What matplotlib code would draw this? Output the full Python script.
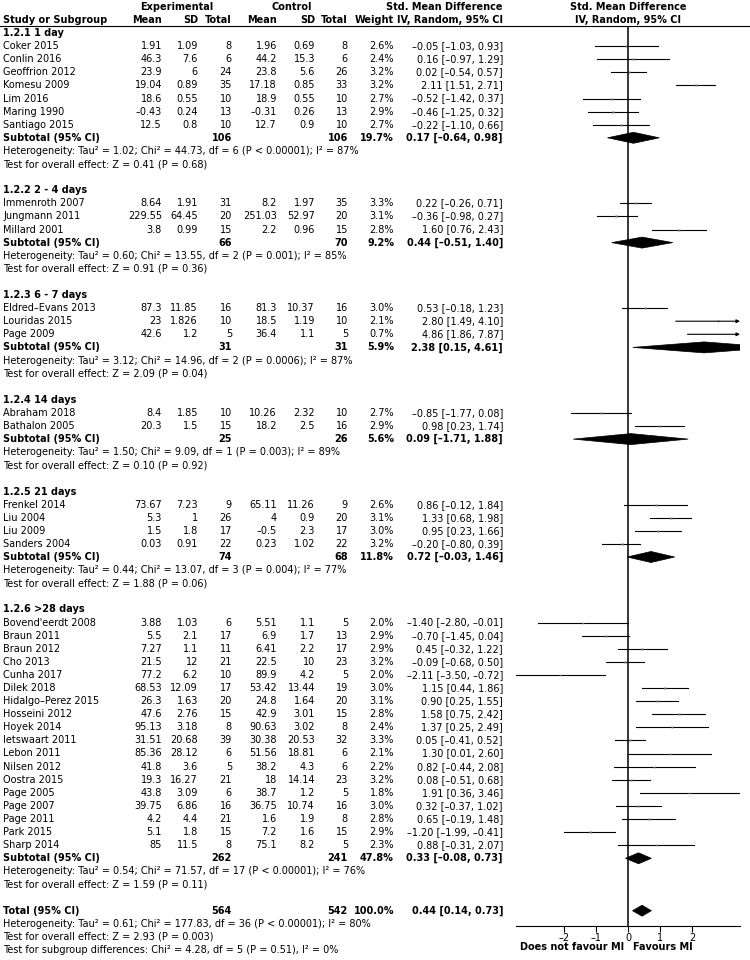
import matplotlib
matplotlib.use("Agg")
import matplotlib.pyplot as plt
from matplotlib.patches import Polygon
from matplotlib.transforms import blended_transform_factory

# ---------------- data ----------------
group_labels = ["1.2.1 1 day", "1.2.2 2 - 4 days", "1.2.3 6 - 7 days",
                "1.2.4 14 days", "1.2.5 21 days", "1.2.6 >28 days"]

study_names = [
    "Coker 2015", "Conlin 2016", "Geoffrion 2012", "Komesu 2009", "Lim 2016", "Maring 1990", "Santiago 2015",
    "Immenroth 2007", "Jungmann 2011", "Millard 2001",
    "Eldred-Evans 2013", "Louridas 2015", "Page 2009",
    "Abraham 2018", "Bathalon 2005",
    "Frenkel 2014", "Liu 2004", "Liu 2009", "Sanders 2004",
    "Bovend'eerdt 2008", "Braun 2011", "Braun 2012", "Cho 2013", "Cunha 2017", "Dilek 2018",
    "Hidalgo-Perez 2015", "Hosseini 2012", "Hoyek 2014", "Ietswaart 2011", "Lebon 2011", "Nilsen 2012",
    "Oostra 2015", "Page 2005", "Page 2007", "Page 2011", "Park 2015", "Sharp 2014",
]
study_group = [0]*7 + [1]*3 + [2]*3 + [3]*2 + [4]*4 + [5]*18

exp_mean = [1.91, 46.3, 23.9, 19.04, 18.6, -0.43, 12.5,
            8.64, 229.55, 3.8,
            87.3, 23, 42.6,
            8.4, 20.3,
            73.67, 5.3, 1.5, 0.03,
            3.88, 5.5, 7.27, 21.5, 77.2, 68.53, 26.3, 47.6, 95.13, 31.51, 85.36, 41.8,
            19.3, 43.8, 39.75, 4.2, 5.1, 85]
exp_sd = [1.09, 7.6, 6, 0.89, 0.55, 0.24, 0.8,
          1.91, 64.45, 0.99,
          11.85, 1.826, 1.2,
          1.85, 1.5,
          7.23, 1, 1.8, 0.91,
          1.03, 2.1, 1.1, 12, 6.2, 12.09, 1.63, 2.76, 3.18, 20.68, 28.12, 3.6,
          16.27, 3.09, 6.86, 4.4, 1.8, 11.5]
exp_n = [8, 6, 24, 35, 10, 13, 10,
         31, 20, 15,
         16, 10, 5,
         10, 15,
         9, 26, 17, 22,
         6, 17, 11, 21, 10, 17, 20, 15, 8, 39, 6, 5,
         21, 6, 16, 21, 15, 8]
ctl_mean = [1.96, 44.2, 23.8, 17.18, 18.9, -0.31, 12.7,
            8.2, 251.03, 2.2,
            81.3, 18.5, 36.4,
            10.26, 18.2,
            65.11, 4, -0.5, 0.23,
            5.51, 6.9, 6.41, 22.5, 89.9, 53.42, 24.8, 42.9, 90.63, 30.38, 51.56, 38.2,
            18, 38.7, 36.75, 1.6, 7.2, 75.1]
ctl_sd = [0.69, 15.3, 5.6, 0.85, 0.55, 0.26, 0.9,
          1.97, 52.97, 0.96,
          10.37, 1.19, 1.1,
          2.32, 2.5,
          11.26, 0.9, 2.3, 1.02,
          1.1, 1.7, 2.2, 10, 4.2, 13.44, 1.64, 3.01, 3.02, 20.53, 18.81, 4.3,
          14.14, 1.2, 10.74, 1.9, 1.6, 8.2]
ctl_n = [8, 6, 26, 33, 10, 13, 10,
         35, 20, 15,
         16, 10, 5,
         10, 16,
         9, 20, 17, 22,
         5, 13, 17, 23, 5, 19, 20, 15, 8, 32, 6, 6,
         23, 5, 16, 8, 15, 5]
weight = [2.6, 2.4, 3.2, 3.2, 2.7, 2.9, 2.7,
          3.3, 3.1, 2.8,
          3.0, 2.1, 0.7,
          2.7, 2.9,
          2.6, 3.1, 3.0, 3.2,
          2.0, 2.9, 2.9, 3.2, 2.0, 3.0, 3.1, 2.8, 2.4, 3.3, 2.1, 2.2,
          3.2, 1.8, 3.0, 2.8, 2.9, 2.3]
smd = [-0.05, 0.16, 0.02, 2.11, -0.52, -0.46, -0.22,
       0.22, -0.36, 1.60,
       0.53, 2.80, 4.86,
       -0.85, 0.98,
       0.86, 1.33, 0.95, -0.20,
       -1.40, -0.70, 0.45, -0.09, -2.11, 1.15, 0.90, 1.58, 1.37, 0.05, 1.30, 0.82,
       0.08, 1.91, 0.32, 0.65, -1.20, 0.88]
ci_lo = [-1.03, -0.97, -0.54, 1.51, -1.42, -1.25, -1.10,
         -0.26, -0.98, 0.76,
         -0.18, 1.49, 1.86,
         -1.77, 0.23,
         -0.12, 0.68, 0.23, -0.80,
         -2.80, -1.45, -0.32, -0.68, -3.50, 0.44, 0.25, 0.75, 0.25, -0.41, 0.01, -0.44,
         -0.51, 0.36, -0.37, -0.19, -1.99, -0.31]
ci_hi = [0.93, 1.29, 0.57, 2.71, 0.37, 0.32, 0.66,
         0.71, 0.27, 2.43,
         1.23, 4.10, 7.87,
         0.08, 1.74,
         1.84, 1.98, 1.66, 0.39,
         -0.01, 0.04, 1.22, 0.50, -0.72, 1.86, 1.55, 2.42, 2.49, 0.52, 2.60, 2.08,
         0.68, 3.46, 1.02, 1.48, -0.41, 2.07]

sub_exp_n = [106, 66, 31, 25, 74, 262]
sub_ctl_n = [106, 70, 31, 26, 68, 241]
sub_weight = [19.7, 9.2, 5.9, 5.6, 11.8, 47.8]
sub_smd = [0.17, 0.44, 2.38, 0.09, 0.72, 0.33]
sub_lo = [-0.64, -0.51, 0.15, -1.71, -0.03, -0.08]
sub_hi = [0.98, 1.40, 4.61, 1.88, 1.46, 0.73]
het_tau2 = [1.02, 0.60, 3.12, 1.50, 0.44, 0.54]
het_chi2 = [44.73, 13.55, 14.96, 9.09, 13.07, 71.57]
het_df = [6, 2, 2, 1, 3, 17]
het_p = ["< 0.00001", "= 0.001", "= 0.0006", "= 0.003", "= 0.004", "< 0.00001"]
het_i2 = [87, 85, 87, 89, 77, 76]
z_val = [0.41, 0.91, 2.09, 0.10, 1.88, 1.59]
z_p = ["= 0.68", "= 0.36", "= 0.04", "= 0.92", "= 0.06", "= 0.11"]

total_exp_n, total_ctl_n, total_weight = 564, 542, 100.0
total_smd, total_lo, total_hi = 0.44, 0.14, 0.73
total_tau2, total_chi2, total_df, total_p, total_i2 = 0.61, 177.83, 36, "< 0.00001", 80
total_z, total_zp = 2.93, "= 0.003"
subgroup_chi2, subgroup_df, subgroup_p, subgroup_i2 = 4.28, 5, "= 0.51", 0

x_ticks = [-2, -1, 0, 1, 2]
left_label, right_label = "Does not favour MI", "Favours MI"

# ---------------- layout ----------------
W, H = 750, 960
ROW0, PITCH = 33.0, 13.1
FS = 7.0
DASH = "\u2013"
plt.rcParams["font.family"] = ["DejaVu Sans"]
plt.rcParams["axes.unicode_minus"] = False


def pix2row(p):
    return (p - ROW0) / PITCH


fig = plt.figure(figsize=(W / 100, H / 100), dpi=100)
ax_t = fig.add_axes([0, 0, 1, 1])
ax_t.set_xlim(0, W)
ax_t.set_ylim(pix2row(H), pix2row(0))
ax_t.axis("off")

PL, PR, PT, PB = 516, 740, 26, 926
XMIN, XMAX = -3.5, 3.5
ax_f = fig.add_axes([PL / W, 1 - PB / H, (PR - PL) / W, (PB - PT) / H])
ax_f.set_xlim(XMIN, XMAX)
ax_f.set_ylim(pix2row(PB), pix2row(PT))
ax_f.patch.set_alpha(0)
for s in ["left", "right", "top"]:
    ax_f.spines[s].set_visible(False)
ax_f.spines["bottom"].set_linewidth(0.8)
ax_f.set_yticks([])
ax_f.set_xticks(x_ticks)
ax_f.set_xticklabels([f"{t}".replace("-", DASH) for t in x_ticks])
ax_f.tick_params(axis="x", direction="out", length=4, width=0.8, labelsize=FS, pad=1)

bt = blended_transform_factory(ax_f.transData, ax_t.transData)

C_NAME, C_EM, C_ESD, C_EN, C_CM, C_CSD, C_CN, C_W, C_CI = 3, 162, 198, 232, 277, 315, 348, 394, 503


def fmt(v):
    return f"{v:g}".replace("-", DASH)


def ci_str(e, lo, hi):
    return f"{e:.2f} [{lo:.2f}, {hi:.2f}]".replace("-", DASH)


def txt(x, r, s, ha="right", bold=False, **kw):
    ax_t.text(x, r, s, ha=ha, va="center", fontsize=FS,
              fontweight="bold" if bold else "normal", **kw)


# headers
txt(177, -2, "Experimental", ha="center", bold=True)
txt(292, -2, "Control", ha="center", bold=True)
txt(C_CI, -2, "Std. Mean Difference", bold=True)
ax_f.text(0, -2, "Std. Mean Difference", transform=bt, ha="center", va="center",
          fontsize=FS, fontweight="bold")
txt(C_NAME, -1, "Study or Subgroup", ha="left", bold=True)
for x, s in [(C_EM, "Mean"), (C_ESD, "SD"), (C_EN, "Total"), (C_CM, "Mean"),
             (C_CSD, "SD"), (C_CN, "Total"), (C_W, "Weight"), (C_CI, "IV, Random, 95% CI")]:
    txt(x, -1, s, bold=True)
ax_f.text(0, -1, "IV, Random, 95% CI", transform=bt, ha="center", va="center",
          fontsize=FS, fontweight="bold")
ax_t.plot([0, W], [pix2row(PT), pix2row(PT)], color="black", lw=0.8)

DH = 0.42


def diamond(r, e, lo, hi):
    ax_f.add_patch(Polygon([(lo, r), (e, r - DH), (hi, r), (e, r + DH)], closed=True,
                           fc="black", ec="black", lw=0.5))


row = 0
for g, label in enumerate(group_labels):
    txt(C_NAME, row, label, ha="left", bold=True)
    row += 1
    for i in [k for k, gg in enumerate(study_group) if gg == g]:
        txt(C_NAME, row, study_names[i].replace("-", DASH), ha="left")
        txt(C_EM, row, fmt(exp_mean[i]))
        txt(C_ESD, row, fmt(exp_sd[i]))
        txt(C_EN, row, fmt(exp_n[i]))
        txt(C_CM, row, fmt(ctl_mean[i]))
        txt(C_CSD, row, fmt(ctl_sd[i]))
        txt(C_CN, row, fmt(ctl_n[i]))
        txt(C_W, row, f"{weight[i]:.1f}%")
        txt(C_CI, row, ci_str(smd[i], ci_lo[i], ci_hi[i]))
        lo, hi = ci_lo[i], ci_hi[i]
        if hi > XMAX:
            ax_f.annotate("", xy=(XMAX, row), xytext=(max(lo, XMIN), row),
                          arrowprops=dict(arrowstyle="-|>", lw=0.8, color="black",
                                          mutation_scale=5, shrinkA=0, shrinkB=0))
        else:
            ax_f.plot([max(lo, XMIN), hi], [row, row], color="black", lw=0.8)
        ax_f.plot(smd[i], row, "s", ms=0.55 * weight[i], color="#7a7a7a", mec="none")
        row += 1
    txt(C_NAME, row, "Subtotal (95% CI)", ha="left", bold=True)
    txt(C_EN, row, fmt(sub_exp_n[g]), bold=True)
    txt(C_CN, row, fmt(sub_ctl_n[g]), bold=True)
    txt(C_W, row, f"{sub_weight[g]:.1f}%", bold=True)
    txt(C_CI, row, ci_str(sub_smd[g], sub_lo[g], sub_hi[g]), bold=True)
    diamond(row, sub_smd[g], sub_lo[g], sub_hi[g])
    row += 1
    txt(C_NAME, row, f"Heterogeneity: Tau\u00b2 = {het_tau2[g]:.2f}; Chi\u00b2 = {het_chi2[g]:.2f}, "
                     f"df = {het_df[g]} (P {het_p[g]}); I\u00b2 = {het_i2[g]}%", ha="left")
    row += 1
    txt(C_NAME, row, f"Test for overall effect: Z = {z_val[g]:.2f} (P {z_p[g]})", ha="left")
    row += 2

txt(C_NAME, row, "Total (95% CI)", ha="left", bold=True)
txt(C_EN, row, fmt(total_exp_n), bold=True)
txt(C_CN, row, fmt(total_ctl_n), bold=True)
txt(C_W, row, f"{total_weight:.1f}%", bold=True)
txt(C_CI, row, ci_str(total_smd, total_lo, total_hi), bold=True)
diamond(row, total_smd, total_lo, total_hi)
row += 1
txt(C_NAME, row, f"Heterogeneity: Tau\u00b2 = {total_tau2:.2f}; Chi\u00b2 = {total_chi2:.2f}, "
                 f"df = {total_df} (P {total_p}); I\u00b2 = {total_i2}%", ha="left")
row += 1
txt(C_NAME, row, f"Test for overall effect: Z = {total_z:.2f} (P {total_zp})", ha="left")
row += 1
txt(C_NAME, row, f"Test for subgroup differences: Chi\u00b2 = {subgroup_chi2:.2f}, df = {subgroup_df} "
                 f"(P {subgroup_p}), I\u00b2 = {subgroup_i2}%", ha="left")

ax_f.axvline(0, color="black", lw=1.1)
fav_row = pix2row(947)
ax_f.text(-0.12, fav_row, left_label, transform=bt, ha="right", va="center",
          fontsize=FS, fontweight="bold")
ax_f.text(0.16, fav_row, right_label, transform=bt, ha="left", va="center",
          fontsize=FS, fontweight="bold")

fig.savefig("out.png", dpi=100)
